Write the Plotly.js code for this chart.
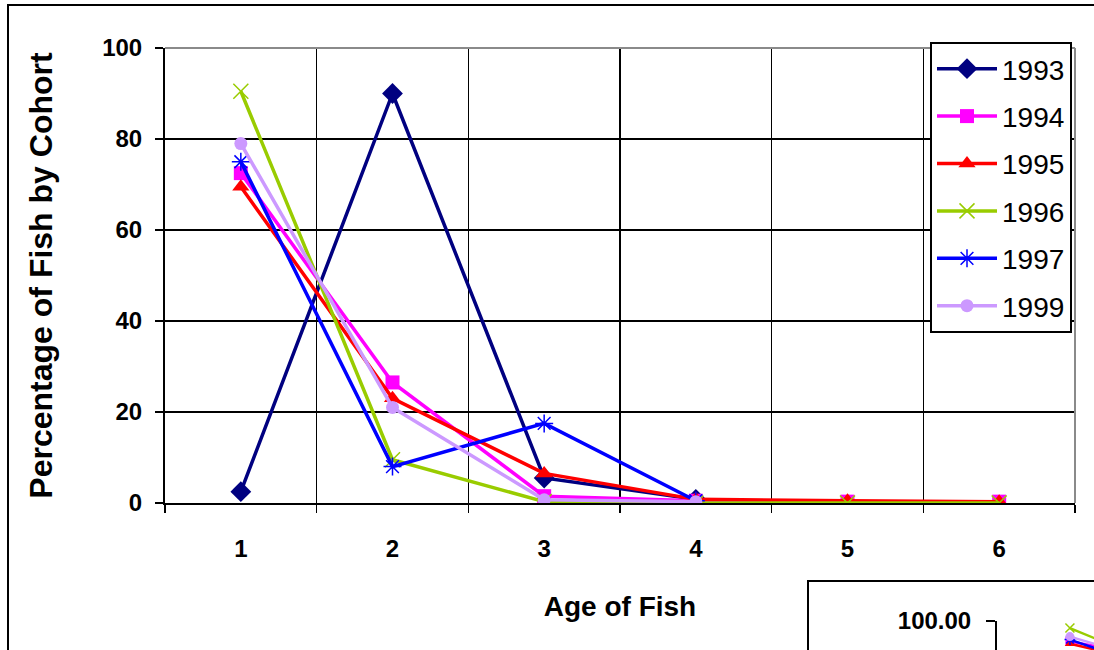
<!DOCTYPE html>
<html>
<head>
<meta charset="utf-8">
<script src="https://cdn.plot.ly/plotly-3.0.1.min.js"></script>
<style>html,body{margin:0;padding:0;background:#fff;}#chart{width:1094px;height:650px;}</style>
</head>
<body>
<div id="chart"></div>
<script>
// ---- data ----
const ages = [1, 2, 3, 4, 5, 6];
const cohortNames = ['1993', '1994', '1995', '1996', '1997', '1999'];
const s1993 = [2.5, 90, 5.5, 0.8, null, null];
const s1994 = [72.5, 26.5, 1.5, 0.5, 0.3, 0.3];
const s1995 = [69.5, 23, 6.5, 0.8, 0.5, 0.3];
const s1996 = [90.5, 9.5, 0.3, 0, 0, 0];
const s1997 = [75, 8, 17.5, 0.5, null, null];
const s1999 = [79, 21, 0.7, 0.3, null, null];
const seriesValues = [s1993, s1994, s1995, s1996, s1997, s1999];
const yTickVals = [0, 20, 40, 60, 80, 100];
const xTitle = 'Age of Fish';
const yTitle = 'Percentage of Fish by Cohort';

// ---- styles ----
const W = 1094, H = 650;
const FONT = 'Liberation Sans, Arial, sans-serif';
const styles = [
  {color: '#000080', symbol: 'diamond', size: 16, lw: 0},
  {color: '#ff00ff', symbol: 'square', size: 14, lw: 0},
  {color: '#ff0000', symbol: 'triangle-up', size: 15, lw: 0},
  {color: '#99cc00', symbol: 'x-thin-open', size: 15, lw: 1.5},
  {color: '#0000ff', symbol: 'asterisk-open', size: 15, lw: 1.5},
  {color: '#cc99ff', symbol: 'circle', size: 13, lw: 0}
];

const traces = [];
seriesValues.forEach((vals, i) => {
  const st = styles[i];
  traces.push({
    type: 'scatter', mode: 'lines+markers', name: cohortNames[i],
    x: ages, y: vals, xaxis: 'x', yaxis: 'y',
    legendgroup: 'g' + i,
    line: {color: st.color, width: 3.5},
    marker: {color: st.color, symbol: st.symbol, size: st.size, line: {color: st.color, width: st.lw}},
    connectgaps: false, cliponaxis: true
  });
});
// partial second chart at the bottom right (same data)
seriesValues.forEach((vals, i) => {
  const st = styles[i];
  traces.push({
    type: 'scatter', mode: 'lines+markers', name: cohortNames[i],
    x: ages, y: vals, xaxis: 'x2', yaxis: 'y2', showlegend: false,
    legendgroup: 'g' + i,
    line: {color: st.color, width: 2.5},
    marker: {color: st.color, symbol: st.symbol, size: 9, line: {color: st.color, width: st.lw}}
  });
});

const layout = {
  width: W, height: H,
  margin: {l: 0, r: 0, t: 0, b: 0},
  paper_bgcolor: '#fff', plot_bgcolor: 'rgba(0,0,0,0)',
  font: {family: FONT, color: '#000'},
  showlegend: true,
  xaxis: {
    domain: [165 / W, 1075 / W], anchor: 'y', type: 'category',
    range: [-0.5, 5.5], tickson: 'boundaries',
    showgrid: true, gridcolor: '#000', gridwidth: 1.5,
    ticks: 'outside', ticklen: 8, tickwidth: 1.5, tickcolor: '#000',
    showline: true, linecolor: '#000', linewidth: 2, zeroline: false,
    tickfont: {family: FONT, size: 24, color: '#000', weight: 'bold'},
    ticklabelstandoff: 23,
    title: {text: xTitle, font: {family: FONT, size: 28, color: '#000', weight: 'bold'}, standoff: 36},
    fixedrange: true
  },
  yaxis: {
    domain: [1 - 503 / H, 1 - 48 / H], anchor: 'x',
    range: [0, 100], tickvals: yTickVals,
    showgrid: true, gridcolor: '#000', gridwidth: 1.5,
    ticks: 'outside', ticklen: 8, tickwidth: 1.5, tickcolor: '#000',
    showline: true, linecolor: '#000', linewidth: 2, zeroline: false,
    tickfont: {family: FONT, size: 24, color: '#000', weight: 'bold'},
    ticklabelstandoff: 8,
    title: {text: yTitle, font: {family: FONT, size: 32, color: '#000', weight: 'bold'}, standoff: 40},
    fixedrange: true
  },
  xaxis2: {
    domain: [997 / W, 1], anchor: 'y2', type: 'linear', range: [0.5, 1.165],
    showgrid: false, zeroline: false, showticklabels: false, showline: false, ticks: '', fixedrange: true
  },
  yaxis2: {
    domain: [0, 29 / H], anchor: 'x2', range: [61, 100],
    tickvals: [100], tickformat: '.2f',
    ticks: 'outside', ticklen: 9, tickwidth: 1.5, tickcolor: '#000',
    showline: true, linecolor: '#000', linewidth: 2,
    showgrid: true, gridcolor: '#555', gridwidth: 1.5, zeroline: false,
    tickfont: {family: FONT, size: 24, color: '#000', weight: 'bold'},
    ticklabelstandoff: 10, fixedrange: true
  },
  legend: {
    x: 930 / W, y: 1 - 42 / H, xanchor: 'left', yanchor: 'top',
    bgcolor: '#fff', bordercolor: '#000', borderwidth: 2,
    font: {family: FONT, size: 28, color: '#000'},
    itemwidth: 60, tracegroupgap: 8, traceorder: 'grouped'
  },
  shapes: [
    // outer chart frame (extends beyond the visible picture)
    {type: 'rect', xref: 'paper', yref: 'paper', x0: 8 / W, x1: 1.5, y0: -0.5, y1: 1 - 5 / H,
     line: {color: '#000', width: 2}, fillcolor: 'rgba(0,0,0,0)', layer: 'below'},
    // second chart frame
    {type: 'rect', xref: 'paper', yref: 'paper', x0: 808 / W, x1: 1.5, y0: -0.5, y1: 1 - 581 / H,
     line: {color: '#000', width: 2}, fillcolor: 'rgba(0,0,0,0)', layer: 'below'},
    // grey plot-area border top and right
    {type: 'line', xref: 'x domain', yref: 'y domain', x0: 0, x1: 1, y0: 1, y1: 1,
     line: {color: '#8a8a8a', width: 2}, layer: 'above'},
    {type: 'line', xref: 'x domain', yref: 'y domain', x0: 1, x1: 1, y0: 0, y1: 1,
     line: {color: '#8a8a8a', width: 2}, layer: 'above'}
  ]
};

Plotly.newPlot('chart', traces, layout, {displayModeBar: false, staticPlot: true});
</script>
</body>
</html>
